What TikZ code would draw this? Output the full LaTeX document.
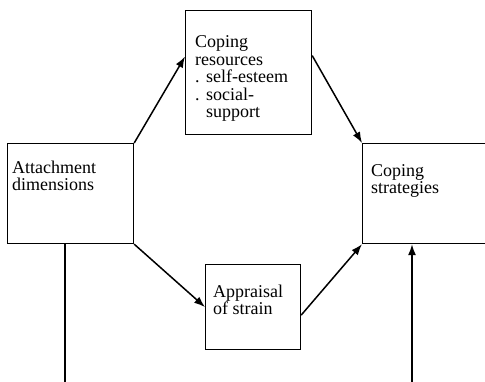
\documentclass[tikz,border=0pt]{standalone}
\usepackage{fontspec}
\setmainfont{Liberation Serif}
\usetikzlibrary{positioning,calc,arrows.meta}
\tikzset{font=\fontsize{18}{17.5}\selectfont}

\begin{document}
\begin{tikzpicture}[x=1pt, y=-1pt]
	\useasboundingbox (0,0) rectangle (485,382);
	\begin{scope}
		\tikzstyle{box}=[draw, line width=1.2pt, inner sep=0pt, anchor=north west]
		\tikzstyle{txt}=[align=left, inner sep=0pt, anchor=base west]
		\tikzstyle{conn}=[line width=1.5pt, -{Latex[length=11pt, width=8pt]}]
		% boxes
		\node[box, minimum width=126pt, minimum height=100pt] (attach) at (7, 143) {};
		\node[box, minimum width=126pt, minimum height=124pt] (res) at (185, 10) {};
		\node[box, minimum width=133pt, minimum height=100pt] (strat) at (362, 143) {};
		\node[box, minimum width=95pt, minimum height=85pt] (appr) at (205, 264) {};

		% texts (placed by the baseline of their last line)
		\node[txt] (attachtxt) at (12, 191) {Attachment\\dimensions};
		\node[txt] (restxt) at (195, 118) {Coping\\resources\\\makebox[11pt][l]{.}self-esteem\\\makebox[11pt][l]{.}social-\\\hspace*{11pt}support};
		\node[txt] (strattxt) at (371, 194) {Coping\\strategies};
		\node[txt] (apprtxt) at (213, 315) {Appraisal\\of strain};

		\coordinate (low1) at (65, 382);
		\coordinate (low2) at (412, 382);

		\draw[conn] (attach.north east) -- ([yshift=16pt]res.west);
		\draw[conn] ([yshift=17pt]res.east) -- (strat.north west);
		\draw[conn] (attach.south east) -- (appr.west);
		\draw[conn] ([yshift=-8pt]appr.east) -- (strat.south west);
		\draw[line width=1.2pt] (low1 |- attach.south) -- (low1);
		\draw[conn] (low2) -- (low2 |- strat.south);
	\end{scope}
\end{tikzpicture}
\end{document}
